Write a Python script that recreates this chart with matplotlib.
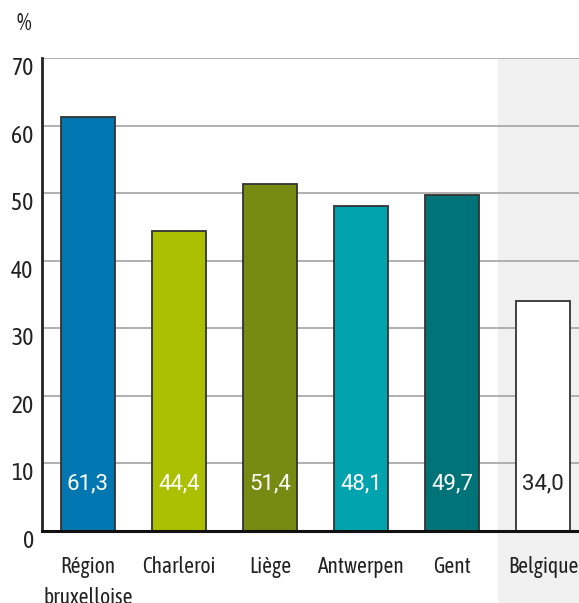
import matplotlib.pyplot as plt
import matplotlib.transforms as mtransforms
import numpy as np

# Data
categories = ["Région\nbruxelloise", "Charleroi", "Liège", "Antwerpen", "Gent", "Belgique"]
values = [61.3, 44.4, 51.4, 48.1, 49.7, 34.0]
colors = ["#0077b0", "#abc000", "#778a12", "#00a3ae", "#007378", "#ffffff"]
label_colors = ["white", "white", "white", "white", "white", "#222222"]
yticks = [0, 10, 20, 30, 40, 50, 60, 70]

plt.rcParams["font.family"] = ["Asap Condensed", "DejaVu Sans"]

fig = plt.figure(figsize=(5.79, 6.03), dpi=100)
ax = fig.add_axes([0.0725, 0.1194, 0.9275, 0.7844])

x = np.arange(len(categories))

# Shaded band behind the national average, running below the axis too
ax.axvspan(4.5, 5.5, ymin=-0.2, ymax=1.0, color="#f0f0f0", zorder=0, clip_on=False)

for y in yticks[1:]:
    ax.axhline(y, color="#aaaaaa", linewidth=1.3, zorder=1)

ax.bar(x, values, width=0.6, color=colors, edgecolor="#333333", linewidth=1.3, zorder=3)

for xi, v, c in zip(x, values, label_colors):
    ax.text(xi, 7, f"{v:.1f}".replace(".", ","), ha="center", va="center",
            color=c, fontsize=16, family=["Roboto", "DejaVu Sans"], zorder=4)

ax.set_xlim(-0.505, 5.395)
ax.set_ylim(0, 70)
ax.set_xticks(x)
ax.set_xticklabels(categories, fontsize=15.5, color="#222222", linespacing=1.5)
ax.set_yticks(yticks)
ax.set_yticklabels([str(t) for t in yticks], fontsize=17, color="#222222")
ax.tick_params(axis="both", length=0)
ax.tick_params(axis="x", pad=18)
ax.tick_params(axis="y", pad=6)

# nudge y tick labels slightly below their gridlines
offset = mtransforms.ScaledTranslation(0, -8 / 100, fig.dpi_scale_trans)
for lbl in ax.get_yticklabels():
    lbl.set_transform(lbl.get_transform() + offset)

for side in ["top", "right"]:
    ax.spines[side].set_visible(False)
ax.spines["left"].set_color("#222222")
ax.spines["left"].set_linewidth(2)
ax.spines["bottom"].set_color("#111111")
ax.spines["bottom"].set_linewidth(2.2)
ax.spines["left"].set_zorder(5)
ax.spines["bottom"].set_zorder(5)

fig.text(24 / 579, 1 - 24 / 603, "%", fontsize=17, color="#222222", ha="center", va="center")

fig.savefig("out.png", dpi=100)
